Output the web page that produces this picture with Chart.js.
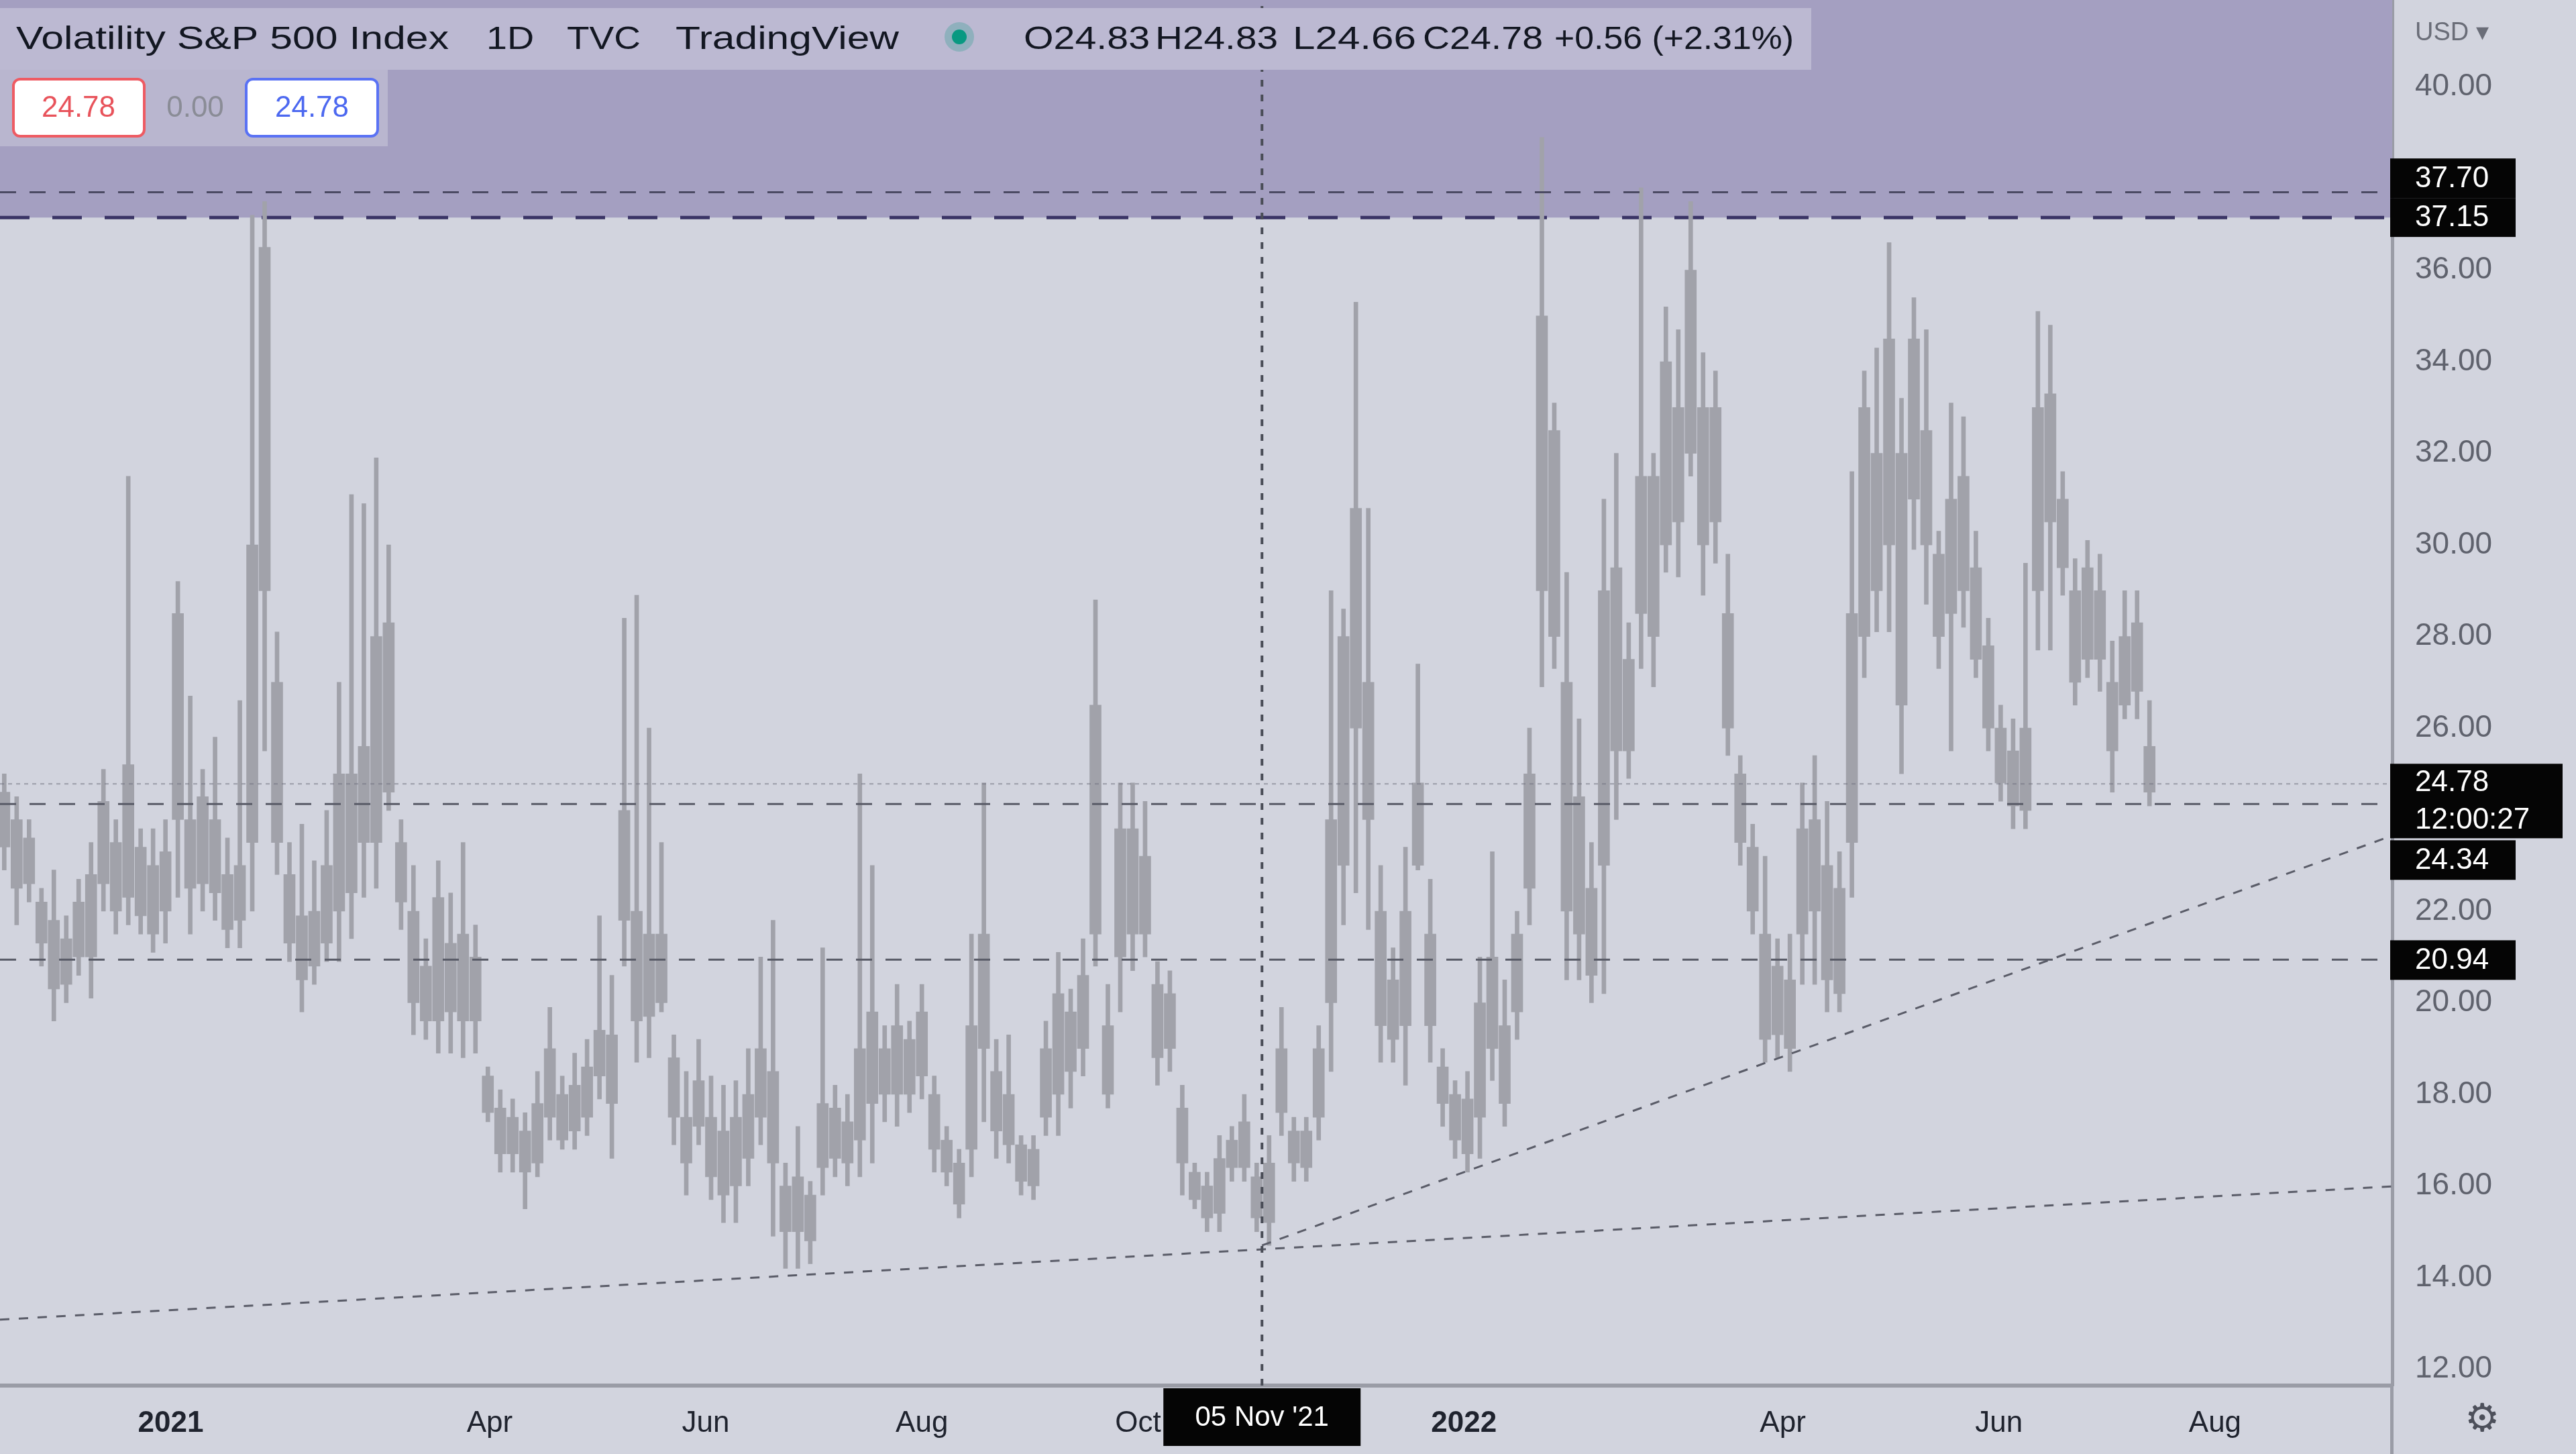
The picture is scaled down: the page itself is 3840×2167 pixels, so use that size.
<!DOCTYPE html>
<html>
<head>
<meta charset="utf-8">
<title>Volatility S&amp;P 500 Index</title>
<script src="https://cdn.jsdelivr.net/npm/chart.js@4.4.0/dist/chart.umd.min.js"></script>
<style>
  html, body { margin: 0; padding: 0; background: #d2d4de; overflow: hidden; }
  #wrap { width: 3840px; height: 2167px; position: relative; }
</style>
</head>
<body>
<div id="wrap"><canvas id="vixChart"></canvas></div>
<script>
// === VIX daily candles, grouped into half-week bars ===
const firstBarDay = -47;   // days after 1 Jan 2021
const barStepDays = 3.5;

const wickLow = [
  22.9, 21.7, 22.2, 20.8, 19.6, 20.0, 20.6, 20.1, 22.0, 21.5,
  21.7, 21.5, 21.1, 21.3, 22.3, 21.5, 22.0, 21.8, 21.2, 21.2,
  22.0, 25.5, 22.8, 20.9, 19.8, 20.4, 20.9, 20.9, 21.4, 22.3,
  22.5, 24.2, 21.6, 19.3, 19.2, 18.9, 18.9, 18.8, 18.9, 17.4,
  16.3, 16.3, 15.5, 16.2, 17.0, 16.8, 16.8, 17.1, 17.9, 16.6,
  20.8, 18.7, 18.8, 19.8, 16.9, 15.8, 16.9, 15.7, 15.2, 15.2,
  16.0, 16.9, 14.9, 14.2, 14.2, 14.3, 15.8, 16.2, 16.0, 16.2,
  16.5, 17.4, 17.3, 17.6, 17.9, 16.3, 16.0, 15.3, 16.2, 17.4,
  16.6, 16.5, 15.8, 15.7, 17.1, 17.1, 17.7, 18.4, 20.8, 17.7,
  19.8, 20.7, 21.0, 18.2, 18.5, 15.8, 15.5, 15.0, 15.0, 16.1,
  16.1, 15.0, 14.7, 17.1, 16.1, 16.1, 17.0, 18.5, 21.7, 22.4,
  21.6, 18.7, 18.7, 18.2, 22.9, 18.7, 17.3, 16.6, 16.3, 16.6,
  18.3, 17.3, 19.2, 21.7, 26.9, 27.3, 20.5, 20.5, 20.0, 20.2,
  24.0, 24.9, 27.3, 26.9, 29.4, 29.3, 31.5, 28.9, 29.6, 25.4,
  23.0, 21.5, 18.7, 18.8, 18.5, 20.4, 20.4, 19.8, 19.8, 22.3,
  27.1, 28.1, 28.1, 25.0, 29.9, 28.7, 27.3, 25.5, 28.2, 27.1,
  25.5, 24.4, 23.8, 23.8, 27.7, 27.7, 28.9, 26.5, 27.1, 26.8,
  24.6, 26.2, 26.2, 24.3
];
const bodyLow = [
  23.4, 22.5, 22.6, 21.3, 20.3, 20.4, 21.0, 21.0, 22.6, 22.0,
  22.3, 21.9, 21.5, 22.0, 24.0, 22.5, 22.6, 22.4, 21.6, 21.8,
  23.5, 29.0, 23.5, 21.3, 20.5, 20.8, 21.3, 22.0, 22.4, 23.5,
  23.5, 24.6, 22.2, 20.0, 19.6, 19.6, 19.8, 19.6, 19.6, 17.6,
  16.7, 16.7, 16.3, 16.5, 17.5, 17.0, 17.2, 17.5, 18.4, 17.8,
  21.8, 19.6, 19.7, 20.0, 17.5, 16.5, 17.3, 16.2, 15.8, 16.0,
  16.6, 17.5, 16.5, 15.0, 15.0, 14.8, 16.4, 16.6, 16.5, 17.0,
  17.8, 18.0, 18.0, 18.0, 18.4, 16.8, 16.3, 15.6, 16.8, 19.0,
  17.2, 16.9, 16.1, 16.0, 17.5, 18.0, 18.5, 19.0, 21.5, 18.0,
  21.0, 21.5, 21.5, 18.8, 19.0, 16.5, 15.7, 15.3, 15.4, 16.4,
  16.4, 15.3, 15.2, 17.6, 16.5, 16.4, 17.5, 20.0, 23.0, 26.0,
  24.0, 19.5, 19.2, 19.5, 23.0, 19.5, 17.8, 17.0, 16.7, 17.5,
  19.0, 17.8, 19.8, 22.5, 29.0, 28.0, 22.0, 21.5, 20.6, 23.0,
  25.5, 25.5, 28.5, 28.0, 30.0, 30.5, 32.0, 30.0, 30.5, 26.0,
  23.5, 22.0, 19.2, 19.3, 19.0, 21.5, 22.0, 20.5, 20.2, 23.5,
  28.0, 29.0, 30.0, 26.5, 31.0, 30.0, 28.0, 28.5, 29.0, 27.5,
  26.0, 24.8, 24.3, 24.2, 29.0, 30.5, 29.5, 27.0, 27.5, 27.5,
  25.5, 26.5, 26.8, 24.6
];
const bodyHigh = [
  24.6, 24.0, 23.6, 22.2, 21.8, 21.4, 22.2, 22.8, 24.4, 23.5,
  25.2, 23.4, 23.0, 23.3, 28.5, 24.0, 24.5, 24.0, 22.8, 23.0,
  30.0, 36.5, 27.0, 22.8, 21.9, 22.0, 23.0, 25.0, 25.0, 25.6,
  28.0, 28.3, 23.5, 22.0, 20.8, 22.3, 21.3, 21.5, 21.0, 18.4,
  17.7, 17.5, 17.2, 17.8, 19.0, 18.0, 18.2, 18.6, 19.4, 19.3,
  24.2, 22.0, 21.5, 21.5, 18.8, 17.5, 18.3, 17.5, 17.2, 17.5,
  18.0, 19.0, 18.5, 16.0, 16.2, 15.8, 17.8, 17.7, 17.4, 19.0,
  19.8, 19.0, 19.5, 19.2, 19.8, 18.0, 17.0, 16.5, 19.5, 21.5,
  18.5, 18.0, 16.9, 16.8, 19.0, 20.2, 19.8, 20.6, 26.5, 19.5,
  23.8, 23.8, 23.2, 20.4, 20.2, 17.7, 16.3, 16.0, 16.6, 17.0,
  17.4, 16.2, 16.5, 19.0, 17.2, 17.2, 19.0, 24.0, 28.0, 30.8,
  27.0, 22.0, 20.5, 22.0, 24.8, 21.5, 18.6, 18.0, 17.9, 20.0,
  21.0, 19.5, 21.5, 25.0, 35.0, 32.5, 27.0, 24.5, 22.5, 29.0,
  29.5, 27.5, 31.5, 31.5, 34.0, 33.0, 36.0, 33.0, 33.0, 28.5,
  25.0, 23.4, 21.5, 20.8, 20.5, 23.8, 24.0, 23.0, 22.5, 28.5,
  33.0, 32.0, 34.5, 32.0, 34.5, 32.5, 29.8, 31.0, 31.5, 29.5,
  27.8, 26.0, 25.5, 26.0, 33.0, 33.3, 31.0, 29.0, 29.5, 29.0,
  27.0, 28.0, 28.3, 25.6
];
const wickHigh = [
  25.0, 24.5, 24.0, 22.5, 22.9, 21.9, 22.7, 23.5, 25.1, 24.0,
  31.5, 23.8, 23.8, 24.0, 29.2, 26.7, 25.1, 25.8, 23.6, 26.6,
  37.2, 37.5, 28.1, 23.5, 23.9, 23.1, 24.2, 27.0, 31.1, 30.9,
  31.9, 30.0, 24.0, 23.0, 21.4, 23.1, 22.4, 23.5, 21.7, 18.6,
  18.1, 17.9, 17.6, 18.5, 19.9, 18.4, 18.9, 19.2, 21.9, 20.6,
  28.4, 28.9, 26.0, 23.5, 19.3, 18.5, 19.2, 18.4, 18.2, 18.3,
  19.0, 21.0, 21.8, 16.5, 17.3, 16.1, 21.2, 18.2, 18.0, 25.0,
  23.0, 19.5, 20.4, 19.6, 20.4, 18.4, 17.3, 16.8, 21.5, 24.8,
  19.2, 19.3, 17.1, 17.1, 19.6, 21.1, 20.3, 21.4, 28.8, 20.4,
  24.8, 24.8, 24.4, 20.9, 20.7, 18.2, 16.5, 16.3, 17.1, 17.3,
  18.0, 16.5, 17.1, 19.9, 17.5, 17.5, 19.5, 29.0, 28.6, 35.3,
  30.8, 23.0, 21.2, 23.4, 27.4, 22.7, 19.0, 18.3, 18.5, 21.0,
  23.3, 20.5, 22.0, 26.0, 38.9, 33.1, 29.4, 26.2, 23.5, 31.0,
  32.0, 28.3, 37.8, 32.0, 35.2, 34.7, 37.5, 34.2, 33.8, 29.8,
  25.4, 23.9, 23.2, 21.4, 21.5, 24.8, 25.4, 24.4, 23.3, 31.6,
  33.8, 34.3, 36.6, 33.2, 35.4, 34.7, 30.3, 33.1, 32.8, 30.3,
  28.4, 26.5, 26.2, 29.6, 35.1, 34.8, 31.6, 29.7, 30.1, 29.8,
  27.9, 29.0, 29.0, 26.6
];

// axes
const viewStartDay = -48.2;
const viewEndDay = 627;
const viewLow = 11.64;
const viewHigh = 41.9;
const priceTicks = [12, 14, 16, 18, 20, 22, 24, 26, 28, 30, 32, 34, 36, 38, 40];
const timeTickDays = [0, 90, 151, 212, 273, 365, 455, 516, 577];
const timeTickLabels = ["2021", "Apr", "Jun", "Aug", "Oct", "2022", "Apr", "Jun", "Aug"];

// drawings
const zoneLevel = 37.15;
const resistanceLevel = 37.70;
const lastPrice = 24.78;
const pivotLevel = 24.34;
const supportLevel = 20.94;
const longTrend = [[-48.2, 13.08], [627, 15.99]];
const shortTrend = [[308, 14.7], [627, 23.65]];
const crosshairDay = 308;
const crosshairLabel = "05 Nov '21";

const headerParts = [
  ["Volatility S&P 500 Index", 24, 645],
  ["1D", 725, 71],
  ["TVC", 845, 110],
  ["TradingView", 1007, 333],
  ["O24.83", 1526, 188],
  ["H24.83", 1722, 183],
  ["L24.66", 1927, 184],
  ["C24.78", 2121, 179],
  ["+0.56 (+2.31%)", 2317, 357],
];

const FONT = "'Liberation Sans', Arial, sans-serif";
Chart.defaults.font.family = FONT;

function barDay(i) {
  return firstBarDay + i * barStepDays;
}

const bodyData = bodyLow.map((lo, i) => ({ x: barDay(i), y: [lo, bodyHigh[i]] }));
const wickData = wickLow.map((lo, i) => ({ x: barDay(i), y: [lo, wickHigh[i]] }));

function hLine(v) {
  return [{ x: viewStartDay, y: v }, { x: viewEndDay, y: v }];
}

function fitText(ctx, text, x, y, w) {
  const m = ctx.measureText(text).width;
  ctx.save();
  ctx.translate(x, y);
  ctx.scale(w / m, 1);
  ctx.fillText(text, 0, 0);
  ctx.restore();
}

function roundBox(ctx, x, y, w, h, r) {
  ctx.beginPath();
  ctx.roundRect(x, y, w, h, r);
}

function priceBox(ctx, yTop, w, h, lines) {
  ctx.fillStyle = "#050505";
  ctx.fillRect(3563, yTop, w, h);
  ctx.fillStyle = "#ffffff";
  ctx.font = "44px " + FONT;
  ctx.textBaseline = "middle";
  ctx.textAlign = "left";
  const step = h / lines.length;
  lines.forEach((t, k) => ctx.fillText(t, 3600, yTop + step * k + step / 2 + 1));
}

function noPadding(scale) {
  scale.paddingTop = 0;
  scale.paddingBottom = 0;
  scale.paddingLeft = 0;
  scale.paddingRight = 0;
}

const overlay = {
  id: "overlay",
  beforeDraw(chart) {
    const ctx = chart.ctx;
    ctx.save();
    ctx.fillStyle = "#d2d4de";
    ctx.fillRect(0, 0, chart.width, chart.height);
    ctx.restore();
  },
  afterDraw(chart) {
    const ctx = chart.ctx;
    const ys = chart.scales.y;
    const xs = chart.scales.x;
    const area = chart.chartArea;
    ctx.save();

    // separator under the price scale
    ctx.fillStyle = "#9a9ca6";
    ctx.fillRect(area.right - 3, area.bottom, 5, chart.height - area.bottom);

    // === header legend ===
    ctx.fillStyle = "#bcb9d2";
    ctx.fillRect(0, 12, 2700, 92);
    ctx.fillStyle = "#b9b6cf";
    ctx.fillRect(0, 104, 578, 114);

    ctx.fillStyle = "#131722";
    ctx.font = "48px " + FONT;
    ctx.textBaseline = "middle";
    ctx.textAlign = "left";
    headerParts.forEach(([t, x, w]) => fitText(ctx, t, x, 60, w));

    ctx.fillStyle = "rgba(8,153,129,0.25)";
    ctx.beginPath(); ctx.arc(1430, 55, 22, 0, Math.PI * 2); ctx.fill();
    ctx.fillStyle = "#089981";
    ctx.beginPath(); ctx.arc(1430, 55, 11, 0, Math.PI * 2); ctx.fill();

    // value boxes
    ctx.fillStyle = "#ffffff";
    ctx.strokeStyle = "#ee5b63";
    ctx.lineWidth = 4;
    roundBox(ctx, 20, 118, 195, 85, 10); ctx.fill(); ctx.stroke();
    ctx.strokeStyle = "#5a72f4";
    roundBox(ctx, 367, 118, 196, 85, 10); ctx.fill(); ctx.stroke();
    ctx.font = "44px " + FONT;
    ctx.textAlign = "center";
    ctx.fillStyle = "#e8535b";
    ctx.fillText("24.78", 117, 162);
    ctx.fillStyle = "#8a8c96";
    ctx.fillText("0.00", 291, 162);
    ctx.fillStyle = "#4c68f0";
    ctx.fillText("24.78", 465, 162);

    // === price scale labels ===
    ctx.textAlign = "left";
    ctx.fillStyle = "#6a6d78";
    ctx.font = "38px " + FONT;
    ctx.fillText("USD \u25BE", 3600, 50);

    const yZone = ys.getPixelForValue(zoneLevel);
    priceBox(ctx, yZone - 29, 187, 58, [zoneLevel.toFixed(2)]);
    priceBox(ctx, yZone - 88, 187, 59, [resistanceLevel.toFixed(2)]);

    const yLast = ys.getPixelForValue(lastPrice);
    priceBox(ctx, yLast - 30, 257, 111, [lastPrice.toFixed(2), "12:00:27"]);
    priceBox(ctx, yLast + 84, 187, 59, [pivotLevel.toFixed(2)]);

    const ySup = ys.getPixelForValue(supportLevel);
    priceBox(ctx, ySup - 29, 187, 59, [supportLevel.toFixed(2)]);

    // === crosshair time label ===
    const xc = xs.getPixelForValue(crosshairDay);
    ctx.fillStyle = "#050505";
    ctx.fillRect(xc - 147, area.bottom + 4, 294, 86);
    ctx.fillStyle = "#ffffff";
    ctx.font = "42px " + FONT;
    ctx.textAlign = "center";
    ctx.fillText(crosshairLabel, xc, area.bottom + 48);

    // settings gear
    ctx.fillStyle = "#4d505b";
    ctx.font = "58px 'DejaVu Sans'";
    ctx.fillText("\u2699", 3700, 2118);

    ctx.restore();
  }
};

const lineBase = { type: "line", pointRadius: 0, fill: false, borderWidth: 3 };

new Chart(document.getElementById("vixChart"), {
  type: "bar",
  data: {
    datasets: [
      {
        ...lineBase,
        data: hLine(zoneLevel),
        fill: "end",
        backgroundColor: "#a49fc1",
        borderColor: "#3a3466",
        borderWidth: 5,
        borderDash: [44, 34],
        order: 20,
      },
      {
        type: "bar",
        data: wickData,
        backgroundColor: "#a1a2aa",
        barThickness: 6,
        grouped: false,
        order: 10,
      },
      {
        type: "bar",
        data: bodyData,
        backgroundColor: "#a1a2aa",
        barThickness: 17,
        grouped: false,
        order: 9,
      },
      { ...lineBase, data: hLine(resistanceLevel), borderColor: "#4b4a63", borderDash: [24, 20], order: 3 },
      { ...lineBase, data: hLine(lastPrice), borderColor: "rgba(110,112,124,0.55)", borderWidth: 2, borderDash: [6, 6], order: 3 },
      { ...lineBase, data: hLine(pivotLevel), borderColor: "#5a5c68", borderDash: [24, 20], order: 3 },
      { ...lineBase, data: hLine(supportLevel), borderColor: "#5a5c68", borderDash: [24, 20], order: 3 },
      { ...lineBase, data: longTrend.map(([x, y]) => ({ x, y })), borderColor: "#5a5c68", borderDash: [14, 14], order: 2 },
      { ...lineBase, data: shortTrend.map(([x, y]) => ({ x, y })), borderColor: "#5a5c68", borderDash: [14, 14], order: 2 },
      {
        ...lineBase,
        data: [{ x: crosshairDay, y: viewLow }, { x: crosshairDay, y: viewHigh }],
        borderColor: "#4a4d57",
        borderWidth: 4,
        borderDash: [10, 12],
        order: 1,
      },
    ],
  },
  options: {
    responsive: true,
    maintainAspectRatio: false,
    devicePixelRatio: 1,
    animation: false,
    layout: { padding: 0 },
    plugins: { legend: { display: false }, tooltip: { enabled: false } },
    scales: {
      x: {
        type: "linear",
        position: "bottom",
        min: viewStartDay,
        max: viewEndDay,
        offset: false,
        grid: { display: false, drawTicks: false },
        border: { display: true, color: "#9a9ca6", width: 6 },
        afterBuildTicks: (scale) => {
          scale.ticks = timeTickDays.map((v) => ({ value: v }));
        },
        afterFit: (scale) => {
          scale.height = 102;
          noPadding(scale);
        },
        ticks: {
          autoSkip: false,
          maxRotation: 0,
          padding: 30,
          color: "#1f232e",
          font: (c) => ({
            size: 44,
            weight: /^\d{4}$/.test(timeTickLabels[c.index] || "") ? "bold" : "normal",
          }),
          callback: (v, i) => timeTickLabels[i],
        },
      },
      y: {
        type: "linear",
        position: "right",
        min: viewLow,
        max: viewHigh,
        grid: { display: false, drawTicks: false },
        border: { display: true, color: "#9a9ca6", width: 5 },
        afterBuildTicks: (scale) => {
          scale.ticks = priceTicks.map((v) => ({ value: v }));
        },
        afterFit: (scale) => {
          scale.width = 274;
          noPadding(scale);
        },
        ticks: {
          padding: 34,
          color: "#5f626d",
          font: { size: 46 },
          callback: (v) => Number(v).toFixed(2),
        },
      },
    },
  },
  plugins: [overlay],
});
</script>
</body>
</html>
